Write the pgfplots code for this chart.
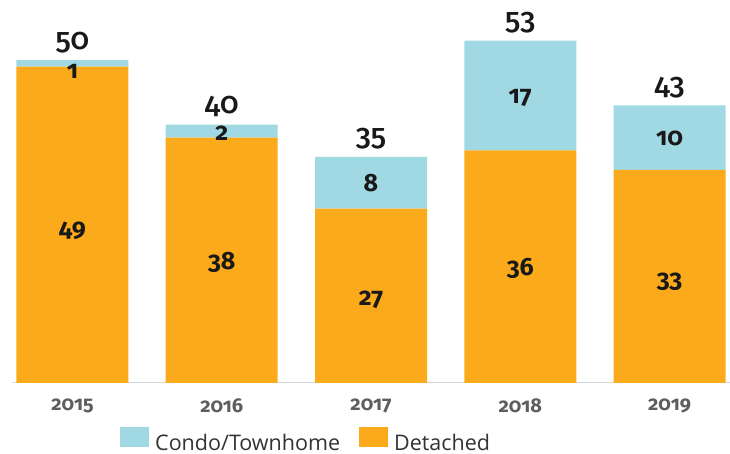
\documentclass[border=0pt]{standalone}
\usepackage{fontspec}
\setmainfont{Fira Sans}[RawFeature=+onum]
\newfontfamily\medfont{Fira Sans Medium}[RawFeature=+onum]
\newfontfamily\legfont{Open Sans}
\usepackage{pgfplots}
\pgfplotsset{compat=1.18}

\definecolor{detached}{HTML}{FAAA1A}
\definecolor{condo}{HTML}{A0D9E4}
\definecolor{gridc}{HTML}{EEEEEE}
\definecolor{axisc}{HTML}{D4D4DE}
\definecolor{tickc}{HTML}{5E5E5E}

\pgfplotsset{
  base/.style={
    scale only axis,
    width=718pt, height=383pt,
    xmin=-0.405, xmax=4.405,
    ymin=0, ymax=59.3,
  },
}

\begin{document}
\begin{tikzpicture}
\begin{axis}[
  base,
  name=ax,
  ybar stacked,
  bar width=112pt,
  axis x line=bottom,
  axis y line=none,
  x axis line style={draw=axisc, line width=1pt, -},
  xtick={0,1,2,3,4},
  xticklabels={2015,2016,2017,2018,2019},
  major tick length=0pt,
  xticklabel style={font=\fontsize{20}{20}\selectfont\bfseries, text=tickc, yshift=-12pt},
  ytick={10,20,30,40,50},
  ymajorgrids,
  grid style={draw=gridc, line width=0.8pt},
  reverse legend,
  legend columns=2,
  legend style={
    at={(0.1504,-0.1488)}, anchor=west,
    draw=none, fill=none, inner sep=0pt,
    font=\legfont\fontsize{21.5}{21.5}\selectfont,
    text=black!80,
    column sep=0pt,
    nodes={inner xsep=6pt, inner ysep=1pt},
    /tikz/every even column/.append style={column sep=13pt},
  },
  legend image code/.code={\fill[#1] (0pt,-3pt) rectangle (29pt,17pt);},
]
\addplot[fill=detached, draw=none] coordinates {(0,49) (1,38) (2,27) (3,36) (4,33)};
\addlegendentry{Detached}
\addplot[fill=condo, draw=none] coordinates {(0,1) (1,2) (2,8) (3,17) (4,10)};
\addlegendentry{Condo/Townhome}
\end{axis}

% segment and total labels
\begin{axis}[
  base,
  hide axis,
  nodes near coords,
  point meta=explicit symbolic,
]
\addplot[draw=none, mark=none,
  nodes near coords style={anchor=center, inner sep=0pt,
    font=\fontsize{25}{25}\selectfont\bfseries, text=black!90}]
  coordinates {(0,23.5)[49] (1,18.6)[38] (2,12.9)[27] (3,17.8)[36] (4,15.6)[33]
               (0,48.2)[1] (1,38.7)[2] (2,31)[8] (3,44.2)[17] (4,37.9)[10]};
\addplot[draw=none, mark=none,
  nodes near coords style={anchor=base, inner sep=0pt, yshift=11pt,
    font=\medfont\fontsize{30}{30}\selectfont, text=black!90}]
  coordinates {(0,50)[50] (1,40)[40] (2,35)[35] (3,53)[53] (4,43)[43]};
\end{axis}

\pgfresetboundingbox
\path ([shift={(-12pt,-71pt)}]ax.south west) rectangle ++(730pt,454pt);
\end{tikzpicture}
\end{document}
